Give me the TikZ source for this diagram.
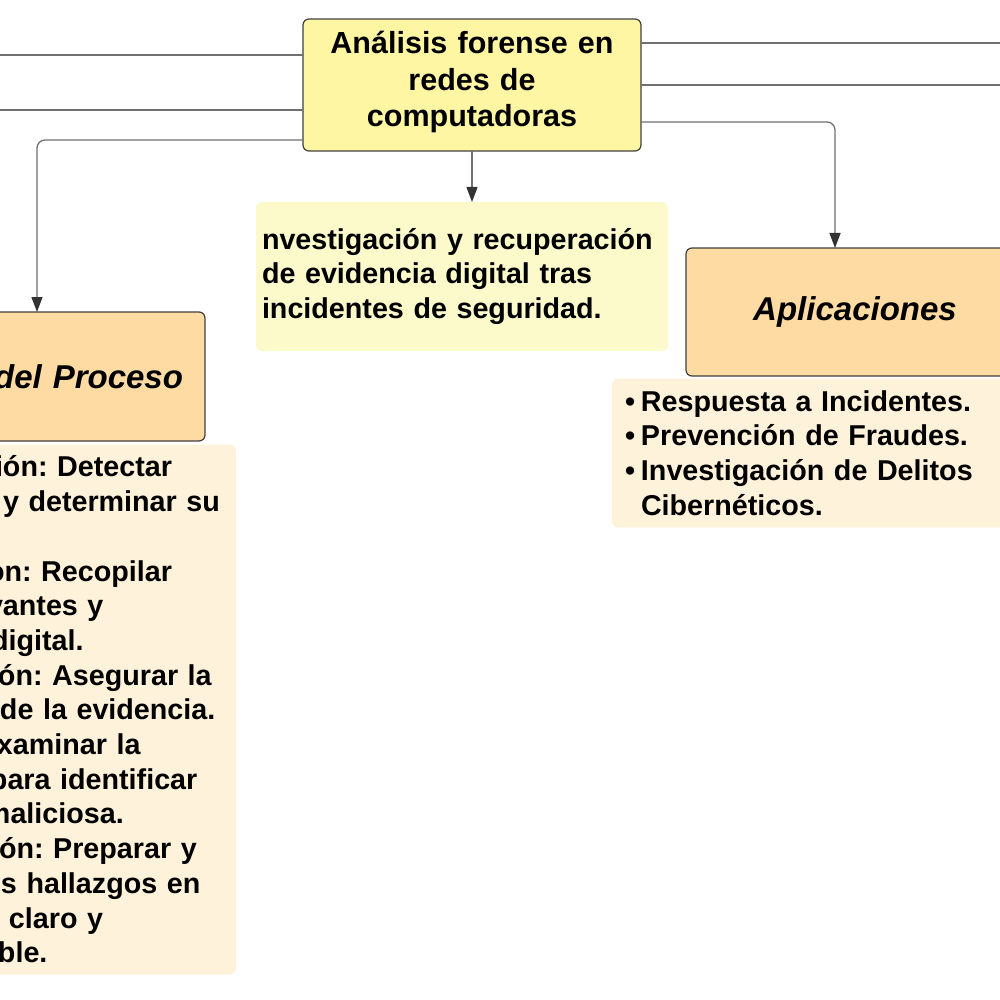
\documentclass[tikz,border=0pt]{standalone}
\usepackage{fontspec}
\setmainfont{Liberation Sans}
\usetikzlibrary{arrows.meta,positioning,calc}
\definecolor{titlefill}{HTML}{FFF6A3}
\definecolor{headfill}{HTML}{FDDBA2}
\definecolor{notefill}{HTML}{FFF2DA}
\definecolor{descfill}{HTML}{FCFACB}
\definecolor{boxline}{HTML}{3F3F3F}
\definecolor{connline}{HTML}{707070}
\definecolor{tipfill}{HTML}{333333}

\begin{document}
\frenchspacing
\begin{tikzpicture}[x=1pt,y=-1pt,
    box/.style={draw=boxline,line width=1.2pt,rounded corners=6pt,outer sep=0pt},
    title/.style={box,fill=titlefill,align=center,
        font=\bfseries\fontsize{30.5}{36.5}\selectfont},
    header/.style={box,fill=headfill,
        font=\bfseries\itshape\fontsize{33}{40}\selectfont},
    note/.style={fill=notefill,rounded corners=6pt,outer sep=0pt,align=left,
        font=\bfseries\fontsize{28.7}{34.7}\selectfont},
    conn/.style={draw=connline,line width=1.3pt,rounded corners=8pt},
    arr/.style={conn,-{Triangle[width=11pt,length=15pt,color=tipfill]}}
]
    \useasboundingbox (0,0) rectangle (1000,1000);
    \clip (0,0) rectangle (1000,1000);

    % main topic
    \node[title,minimum width=338,minimum height=132,text width=322,text depth=85pt]
        (main) at (472,85) {Análisis forense en\\redes de\\computadoras};

    % branches
    \node[note,fill=descfill,minimum width=412,minimum height=149,
        text width=400,inner xsep=6pt] (desc) at (462,276.5)
        {nvestigación y recuperación\\de evidencia digital tras\\incidentes de seguridad.};
    \node[header,minimum width=336,minimum height=129,text width=292,
        inner xsep=22pt,align=right] (proceso) at (37,376.5) {del Proceso};
    \node[header,minimum width=338,minimum height=128,align=center] (aplic) at (855,312)
        {Aplicaciones};

    % details
    \node[note,minimum width=246,minimum height=530,text width=226,inner xsep=10pt]
        (pasos) at (113,709.5)
        {\hspace*{-5pt}ión: Detectar\\
         \hspace*{3pt}y determinar su\\
         \mbox{}\\
         \hspace*{-13pt}on: Recopilar\\
         \hspace*{-13pt}vantes y\\
         \hspace*{-9pt}digital.\\
         \hspace*{-2pt}ón: Asegurar la\\
         de la evidencia.\\
         \hspace*{-3pt}xaminar la\\
         \hspace*{-10pt}para identificar\\
         \hspace*{-15pt}maliciosa.\\
         \hspace*{-1pt}ón: Preparar y\\
         \hspace*{1pt}s hallazgos en\\
         \hspace*{9pt}claro y\\
         \hspace*{-2pt}ble.};
    \node[note,minimum width=398,minimum height=149,text width=372,inner xsep=13pt]
        (usos) at (811,453)
        {\makebox[16pt][l]{•}Respuesta a Incidentes.\\
         \makebox[16pt][l]{•}Prevención de Fraudes.\\
         \makebox[16pt][l]{•}Investigación de Delitos\\
         \hspace*{16pt}Cibernéticos.};

    % connectors
    \coordinate (izqA) at (-5,55);
    \coordinate (izqB) at (-5,110);
    \coordinate (derA) at (1005,43);
    \coordinate (derB) at (1005,85);
    \coordinate (aplicIn) at ($(aplic.north west)+(149,0)$);

    \draw[conn] ($(main.north west)+(0,36)$) -- (izqA);
    \draw[conn] ($(main.north west)+(0,91)$) -- (izqB);
    \draw[conn] ($(main.north east)+(0,24)$) -- (derA);
    \draw[conn] ($(main.north east)+(0,66)$) -- (derB);
    \draw[arr] ($(main.south west)+(0,-11)$) -| (proceso.north);
    \draw[arr] ($(main.south east)+(0,-29)$) -| (aplicIn);
    \draw[arr] (main.south) -- (main.south |- desc.north);
\end{tikzpicture}
\end{document}
